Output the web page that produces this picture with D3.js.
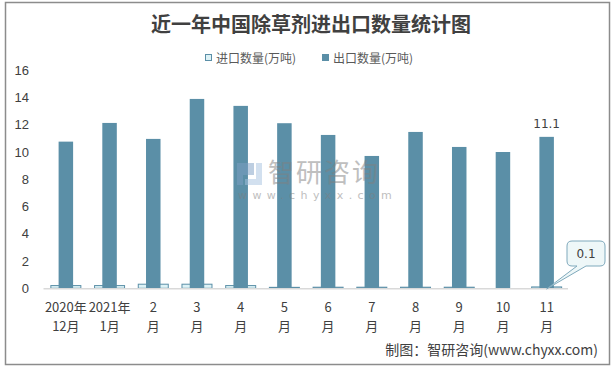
<!DOCTYPE html>
<html><head><meta charset="utf-8">
<script src="https://cdn.jsdelivr.net/npm/d3@7/dist/d3.min.js"></script>
<style>
html,body{margin:0;padding:0;background:#fff;}
svg{display:block;font-family:"Noto Sans CJK SC","Noto Sans",sans-serif;}
</style></head>
<body><svg id="c" width="615" height="368"></svg>
<script>
const categories = [["2020年","12月"],["2021年","1月"],["2","月"],["3","月"],["4","月"],["5","月"],["6","月"],["7","月"],["8","月"],["9","月"],["10","月"],["11","月"]];
const importValues = [0.2, 0.2, 0.3, 0.3, 0.2, 0.07, 0.08, 0.08, 0.08, 0.08, 0, 0.1];
const exportValues = [10.75, 12.12, 10.95, 13.88, 13.37, 12.1, 11.24, 9.7, 11.46, 10.36, 9.99, 11.1];
const yTicks = [0, 2, 4, 6, 8, 10, 12, 14, 16];
const seriesNames = ["进口数量(万吨)", "出口数量(万吨)"];
const title = "近一年中国除草剂进出口数量统计图";

const svg = d3.select("#c");
const EXP = "#5B8FA7", IMP_FILL = "#DDF2F6", IMP_STROKE = "#5B8FA7", TXT = "#404040";

svg.append("rect").attr("x", 5.5).attr("y", 2.5).attr("width", 604).attr("height", 362)
  .attr("fill", "#fff").attr("stroke", "#8c8c8c").attr("stroke-width", 1.5);

svg.append("text").attr("x", 311).attr("y", 32).attr("text-anchor", "middle")
  .attr("font-size", 20).attr("font-weight", "bold").attr("fill", TXT)
  .attr("font-family", "'Noto Sans CJK SC',serif").text(title);

const x = d3.scaleBand().domain(d3.range(categories.length)).range([43.5, 568]);
const y = d3.scaleLinear().domain([0, 16]).range([288.3, 70]);

// legend
const lg = svg.append("g").attr("font-size", 12).attr("fill", "#595959");
lg.append("rect").attr("x", 205.5).attr("y", 54.5).attr("width", 6).attr("height", 6)
  .attr("fill", IMP_FILL).attr("stroke", IMP_STROKE);
lg.append("text").attr("x", 216).attr("y", 62.5).text(seriesNames[0]);
lg.append("rect").attr("x", 322).attr("y", 54).attr("width", 7).attr("height", 7).attr("fill", EXP);
lg.append("text").attr("x", 333).attr("y", 62.5).text(seriesNames[1]);

// y axis labels
const ya = svg.append("g").attr("transform", "translate(29,0)")
  .call(d3.axisLeft(y).tickValues(yTicks).tickSize(0).tickPadding(0).tickFormat(d3.format("d")));
ya.select(".domain").remove();
ya.selectAll("text").attr("font-size", 13).attr("fill", TXT)
  .attr("font-family", "'Liberation Sans','Noto Sans',sans-serif");

// import bars (wide, behind)
const impW = 30, expW = 14.5;
svg.append("g").selectAll("rect").data(importValues.map((v, i) => ({v, i})).filter(d => d.v > 0))
  .join("rect")
  .attr("x", d => x(d.i) + x.bandwidth() / 2 - impW / 2 + 0.5)
  .attr("y", d => y(d.v))
  .attr("width", impW).attr("height", d => y(0) - y(d.v))
  .attr("fill", IMP_FILL).attr("stroke", IMP_STROKE).attr("stroke-width", 1);

// export bars
svg.append("g").selectAll("rect").data(exportValues)
  .join("rect")
  .attr("x", (d, i) => x(i) + x.bandwidth() / 2 - expW / 2 + 0.5)
  .attr("y", d => y(d))
  .attr("width", expW).attr("height", d => y(0) - y(d))
  .attr("fill", EXP);

// watermark (on top, translucent)
const wm = svg.append("g").attr("opacity", 0.5);
wm.append("path").attr("d", "M237,163 h17 v12 h-11 v10 h-6 Z").attr("fill", "#7d9fc4");
wm.append("path").attr("d", "M256,163 h6 v22 h-17 v-6 h11 Z").attr("fill", "#a7c3e0");
wm.append("text").attr("x", 268).attr("y", 182).attr("font-size", 26).attr("fill", "#808080")
  .attr("letter-spacing", 2).text("智研咨询");
wm.append("text").attr("x", 238).attr("y", 199).attr("font-size", 11).attr("fill", "#808080")
  .attr("letter-spacing", 5.4).attr("font-family", "'DejaVu Sans',sans-serif").text("www.chyxx.com");

// baseline
svg.append("line").attr("x1", 43.5).attr("x2", 568).attr("y1", y(0) + 0.5).attr("y2", y(0) + 0.5)
  .attr("stroke", "#d9d9d9").attr("stroke-width", 1.5);

// x labels
const xl = svg.append("g").attr("font-size", 13).attr("fill", TXT).attr("text-anchor", "middle");
categories.forEach((c, i) => {
  const cx = x(i) + x.bandwidth() / 2 + 0.5;
  xl.append("text").attr("x", cx).attr("y", 311.5).text(c[0]);
  xl.append("text").attr("x", cx).attr("y", 331).text(c[1]);
});

// data label 11.1
const last = exportValues.length - 1;
svg.append("text").attr("x", x(last) + x.bandwidth() / 2 + 0.5).attr("y", y(exportValues[last]) - 9)
  .attr("text-anchor", "middle").attr("font-size", 12).attr("fill", TXT)
  .attr("font-family", "'DejaVu Sans',sans-serif").text(d3.format(".1f")(exportValues[last]));

// callout for import 0.1
const tipX = x(last) + x.bandwidth() / 2 + 0.5, tipY = y(importValues[last]) + 2;
const bx = 567, by = 241, bw = 38, bh = 25;
const path = `M${bx+5},${by} H${bx+bw-5} Q${bx+bw},${by} ${bx+bw},${by+5} V${by+bh-5} Q${bx+bw},${by+bh} ${bx+bw-5},${by+bh}
 H${bx+19} L${tipX},${tipY} L${bx+10},${by+bh} H${bx+5} Q${bx},${by+bh} ${bx},${by+bh-5} V${by+5} Q${bx},${by} ${bx+5},${by} Z`;
svg.append("path").attr("d", path).attr("fill", "#EEF7F8").attr("stroke", "#7FA9BC").attr("stroke-width", 1);
svg.append("text").attr("x", bx + bw / 2).attr("y", by + 17).attr("text-anchor", "middle")
  .attr("font-size", 12).attr("fill", TXT).attr("font-family", "'DejaVu Sans',sans-serif")
  .text(d3.format(".1f")(importValues[last]));

// footer
svg.append("text").attr("x", 598).attr("y", 355).attr("text-anchor", "end")
  .attr("font-size", 14).attr("fill", TXT).text("制图：智研咨询(www.chyxx.com)");
</script></body></html>
